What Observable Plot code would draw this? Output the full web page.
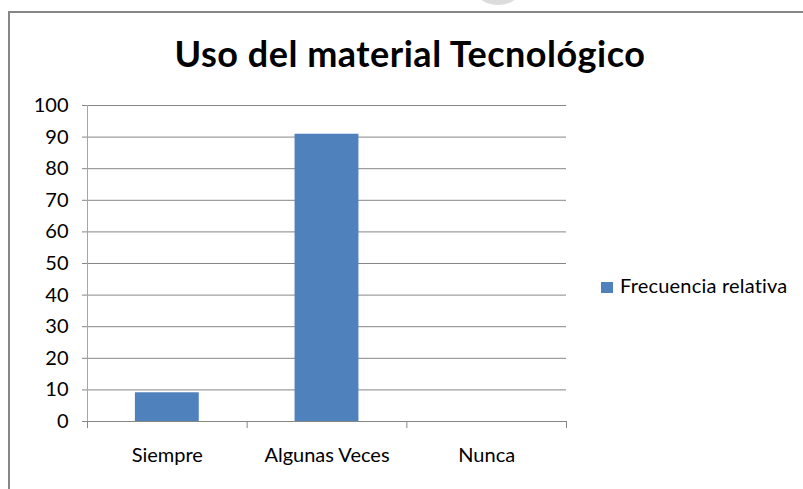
<!DOCTYPE html>
<html>
<head>
<meta charset="utf-8">
<script src="https://cdn.jsdelivr.net/npm/d3@7"></script>
<script src="https://cdn.jsdelivr.net/npm/@observablehq/plot@0.6"></script>
<style>
  body { margin: 0; background: #fff; }
  #wrap { position: relative; width: 803px; height: 489px; overflow: hidden; font-family: Lato, "Open Sans", sans-serif; }
  #bump { position: absolute; left: 468px; top: -55px; width: 60px; height: 60px; border-radius: 50%; background: #dcdcdc; }
  #frame { position: absolute; left: 8px; top: 11px; width: 900px; height: 600px; border-top: 2px solid #878787; border-left: 2px solid #878787; }
  #chart { position: absolute; left: 0; top: 0; }
  #title { position: absolute; left: 0; width: 820px; top: 35px; text-align: center; font-weight: 700; font-size: 36px; line-height: 1; letter-spacing: 0.5px; color: #000; white-space: nowrap; }
  #legend { position: absolute; left: 601px; top: 275px; height: 20px; white-space: nowrap; }
  #legend .sw { position: absolute; left: 0; top: 7px; width: 12px; height: 11px; }
  #legend .lab { position: absolute; left: 19px; top: 0; font-size: 20px; line-height: 1; letter-spacing: 0.2px; color: #000; }
</style>
</head>
<body>
<div id="wrap">
  <div id="bump"></div>
  <div id="frame"></div>
  <div id="chart"></div>
  <div id="title"></div>
  <div id="legend"><span class="sw"></span><span class="lab"></span></div>
</div>
<script>
const chartTitle = "Uso del material Tecnológico";
const seriesName = "Frecuencia relativa";
const categories = ["Siempre", "Algunas Veces", "Nunca"];
const values = [9.09, 90.91, 0];
const yTicks = [0, 10, 20, 30, 40, 50, 60, 70, 80, 90, 100];
const barColor = "#4f81bd";

const data = categories.map((c, i) => ({category: c, index: i, value: values[i]}));
const centers = categories.map((c, i) => i + 0.5);
const bounds = d3.range(categories.length + 1);

const chart = Plot.plot({
  width: 803,
  height: 489,
  marginLeft: 87,
  marginRight: 237,
  marginTop: 105,
  marginBottom: 68,
  style: {fontFamily: "Lato, 'Open Sans', sans-serif", fontSize: "20px", color: "#000", background: "transparent", overflow: "visible"},
  x: {type: "linear", domain: [0, categories.length]},
  y: {domain: [0, 100]},
  marks: [
    Plot.gridY(yTicks, {stroke: "#868686", strokeOpacity: 1}),
    Plot.axisY(yTicks, {tickSize: 5, tickPadding: 14, stroke: "#868686", strokeOpacity: 1, fill: "#000", fontSize: 20, tickFormat: d => String(d), label: null}),
    Plot.rectY(data, {x1: d => d.index + 0.3, x2: d => d.index + 0.7, y: "value", fill: barColor}),
    Plot.ruleX([0], {stroke: "#a6a6a6"}),
    Plot.ruleY([0], {stroke: "#868686"}),
    Plot.axisX(bounds, {tickSize: 7, tickFormat: () => "", stroke: "#868686", strokeOpacity: 1, label: null}),
    Plot.axisX(centers, {tickSize: 0, tickPadding: 26, fill: "#000", fontSize: 20, tickFormat: d => categories[Math.floor(d)], label: null})
  ]
});
document.getElementById("chart").appendChild(chart);
document.getElementById("title").textContent = chartTitle;
document.querySelector("#legend .lab").textContent = seriesName;
document.querySelector("#legend .sw").style.background = barColor;
</script>
</body>
</html>
